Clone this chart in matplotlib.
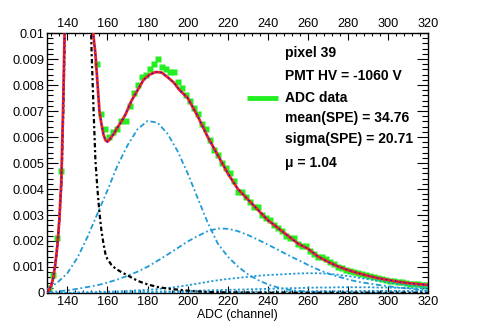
import matplotlib
matplotlib.use("Agg")
import matplotlib.pyplot as plt
from matplotlib.ticker import MultipleLocator

plt.rcParams['font.family'] = ['Liberation Sans', 'DejaVu Sans']

# histogram (2-channel bins)
adc_x = list(range(131, 320, 2))
adc_y = [0.0002, 0.0007, 0.0021, 0.0047, 0.0118, 0.028, 0.047, 0.056, 0.050, 0.034,
         0.018, 0.0104, 0.0088, 0.0069, 0.0063, 0.0060, 0.0062, 0.0063, 0.0066, 0.0066,
         0.0072, 0.0077, 0.0080, 0.0083, 0.0084, 0.0086, 0.0088, 0.0090, 0.0087, 0.0086,
         0.0085, 0.0085, 0.0081, 0.0079, 0.0076, 0.0074, 0.0071, 0.0069, 0.0065, 0.0063,
         0.0059, 0.0055, 0.0053, 0.0050, 0.0048, 0.0046, 0.0043, 0.0039, 0.0039, 0.0037,
         0.0035, 0.0033, 0.0033, 0.0030, 0.0029, 0.0028, 0.0026, 0.0025, 0.0024, 0.0022,
         0.0021, 0.0021, 0.0019, 0.0018, 0.0018, 0.0016, 0.0015, 0.0014, 0.0014, 0.0013,
         0.0012, 0.0011, 0.0010, 0.00097, 0.00090, 0.00086, 0.00080, 0.00077, 0.00072, 0.00068,
         0.00064, 0.00061, 0.00058, 0.00054, 0.00050, 0.00048, 0.00045, 0.00043, 0.00041, 0.00038,
         0.00036, 0.00035, 0.00034, 0.00032, 0.00031]

# total fit
fit_x = [130, 131, 132, 133, 134, 135, 136, 137, 138, 139,
         140, 142, 145, 148, 150, 151, 152, 153, 154, 155,
         156, 157, 158, 159, 160, 161, 163, 165, 167, 169,
         172, 175, 178, 181, 184, 187, 190, 193, 196, 200,
         205, 210, 215, 220, 225, 230, 235, 240, 245, 250,
         255, 260, 265, 270, 275, 280, 285, 290, 295, 300,
         305, 310, 315, 320]
fit_y = [0.00005, 0.00012, 0.0003, 0.0006, 0.0011, 0.0018, 0.0028, 0.0043, 0.0075, 0.0115,
         0.017, 0.035, 0.055, 0.045, 0.025, 0.017, 0.0125, 0.0099, 0.0092, 0.0081,
         0.0070, 0.0065, 0.0061, 0.00588, 0.00582, 0.0059, 0.0061, 0.00637, 0.0066, 0.00687,
         0.0074, 0.0078, 0.0082, 0.0084, 0.0085, 0.00848, 0.0083, 0.0081, 0.0078, 0.0075,
         0.0068, 0.0060, 0.0053, 0.0046, 0.0040, 0.0036, 0.0032, 0.0028, 0.0025, 0.0022,
         0.0019, 0.0017, 0.0014, 0.0012, 0.00102, 0.00088, 0.00076, 0.00066, 0.00057, 0.00050,
         0.00043, 0.00038, 0.00034, 0.00031]

# pedestal
ped_x = [130, 131, 132, 133, 134, 135, 136, 137, 138, 139,
         140, 142, 145, 148, 150, 151, 152, 153, 154, 155,
         156, 157, 158, 159, 160, 162, 164, 167, 170, 173,
         176, 180, 185, 190, 195, 200, 205, 210, 220, 240,
         280, 320]
ped_y = [0.00004, 0.0001, 0.00028, 0.00058, 0.0011, 0.0018, 0.0028, 0.0041, 0.0070, 0.0110,
         0.017, 0.035, 0.055, 0.045, 0.022, 0.014, 0.0095, 0.0072, 0.0051, 0.0040,
         0.0031, 0.0024, 0.0019, 0.0015, 0.0013, 0.00108, 0.00094, 0.0008, 0.00068, 0.00055,
         0.00044, 0.00033, 0.00023, 0.00017, 0.00013, 0.00009, 0.00006, 0.00004, 0.00002, 0.00001,
         0.00001, 0.00001]

# n-photoelectron components, every 5 channels 130..320
pe_x = list(range(130, 321, 5))
pe1_y = [0.00015, 0.00040, 0.00076, 0.00135, 0.00215, 0.00305, 0.00395, 0.00490, 0.00568, 0.00630,
         0.00662, 0.00655, 0.00612, 0.00545, 0.00460, 0.00365, 0.00270, 0.00190, 0.00140, 0.00102,
         0.00072, 0.00050, 0.00033, 0.00021, 0.00013, 0.00008, 0.00005, 0.00003, 0.00002, 0.00001,
         0.00001, 0.00001, 0.00001, 0.00001, 0.00001, 0.00001, 0.00001, 0.00001, 0.00001]
pe2_y = [0.00003, 0.00006, 0.00010, 0.00016, 0.00023, 0.00030, 0.00040, 0.00052, 0.00066, 0.00082,
         0.00101, 0.00124, 0.00148, 0.00173, 0.00198, 0.00219, 0.00238, 0.00248, 0.00247, 0.00238,
         0.00223, 0.00205, 0.00186, 0.00166, 0.00146, 0.00127, 0.00108, 0.00090, 0.00075, 0.00063,
         0.00052, 0.00043, 0.00037, 0.00031, 0.00026, 0.00021, 0.00017, 0.00013, 0.00011]
pe3_y = [0.0, 0.00001, 0.00001, 0.00002, 0.00003, 0.00004, 0.00005, 0.00006, 0.00008, 0.00010,
         0.00012, 0.00015, 0.00019, 0.00024, 0.00030, 0.00036, 0.00043, 0.00049, 0.00054, 0.00058,
         0.00062, 0.00066, 0.00069, 0.00071, 0.00073, 0.00075, 0.00076, 0.00076, 0.00074, 0.00070,
         0.00065, 0.00059, 0.00053, 0.00047, 0.00041, 0.00035, 0.00030, 0.00026, 0.00023]
pe4_y = [0.0, 0.0, 0.0, 0.00001, 0.00001, 0.00001, 0.00002, 0.00002, 0.00003, 0.00003,
         0.00004, 0.00005, 0.00006, 0.00007, 0.00008, 0.00009, 0.00010, 0.00011, 0.00012, 0.00013,
         0.00014, 0.00015, 0.00016, 0.00017, 0.00018, 0.00019, 0.00020, 0.00021, 0.00021, 0.00022,
         0.00022, 0.00022, 0.00022, 0.00021, 0.00021, 0.00020, 0.00019, 0.00018, 0.00017]
pe5_y = [0.0, 0.0, 0.0, 0.0, 0.0, 0.0, 0.0, 0.00001, 0.00001, 0.00001,
         0.00001, 0.00001, 0.00002, 0.00002, 0.00002, 0.00003, 0.00003, 0.00003, 0.00004, 0.00004,
         0.00004, 0.00005, 0.00005, 0.00005, 0.00006, 0.00006, 0.00006, 0.00007, 0.00007, 0.00007,
         0.00007, 0.00008, 0.00008, 0.00008, 0.00008, 0.00008, 0.00008, 0.00008, 0.00008]

info_lines = ["pixel 39", "PMT HV = -1060 V", "ADC data",
              "mean(SPE) = 34.76", "sigma(SPE) = 20.71", "\u03bc = 1.04"]

green = '#22ee22'
azure = '#1f9ad6'

fig = plt.figure(figsize=(4.8, 3.27), dpi=100)
ax = fig.add_axes([0.0985, 0.104, 0.794, 0.795])

ax.plot(adc_x, adc_y, 's', color=green, ms=4.5, mec='none', zorder=2)

ax.plot(pe_x, pe1_y, color=azure, lw=1.3, ls=(0, (3, 1.5, 1, 1.5)), zorder=3)
ax.plot(pe_x, pe2_y, color=azure, lw=1.3, ls=(0, (3, 1.5, 1, 1.5)), zorder=3)
ax.plot(pe_x, pe3_y, color=azure, lw=1.3, ls=(0, (1.2, 1.2)), zorder=3)
ax.plot(pe_x, pe4_y, color=azure, lw=1.3, ls=(0, (1.2, 1.2)), zorder=3)
ax.plot(pe_x, pe5_y, color=azure, lw=1.3, ls=(0, (1.2, 1.2)), zorder=3)
ax.plot(ped_x, ped_y, color='black', lw=1.6, ls=(0, (2, 1.2, 1, 1.2)), zorder=3)

ax.plot(fit_x, fit_y, color='#ee2222', lw=2.0, zorder=4)
ax.plot(fit_x, fit_y, color='#1010ee', lw=0.9, ls=(0, (1.2, 2.5)), zorder=5)

ax.set_xlim(130, 320)
ax.set_ylim(0, 0.01)

ax.xaxis.set_major_locator(MultipleLocator(20))
ax.xaxis.set_minor_locator(MultipleLocator(4))
ax.yaxis.set_major_locator(MultipleLocator(0.001))
ax.yaxis.set_minor_locator(MultipleLocator(0.0002))
ax.set_yticks([i * 0.001 for i in range(11)])
ax.set_yticklabels(['0', '0.001', '0.002', '0.003', '0.004', '0.005',
                    '0.006', '0.007', '0.008', '0.009', '0.01'])

ax.tick_params(which='both', direction='in', top=True, right=True,
               labeltop=True, labelsize=9.2, pad=2, width=0.8)
ax.tick_params(axis='x', which='major', length=5)
ax.tick_params(axis='x', which='minor', length=2.5)
ax.tick_params(axis='y', which='major', length=8)
ax.tick_params(axis='y', which='minor', length=4)
for s in ax.spines.values():
    s.set_linewidth(1.0)

ax.set_xlabel("ADC (channel)", fontsize=8.8, labelpad=1)

# info text
ys = [0.923, 0.835, 0.75, 0.673, 0.592, 0.5]
for txt, yy in zip(info_lines, ys):
    ax.text(0.623, yy, txt, transform=ax.transAxes, fontsize=10,
            fontweight='bold', va='center', ha='left')
ax.plot([0.524, 0.605], [0.75, 0.75], transform=ax.transAxes,
        color=green, lw=3.5, solid_capstyle='butt', clip_on=False)

fig.savefig("out.png", dpi=100)
